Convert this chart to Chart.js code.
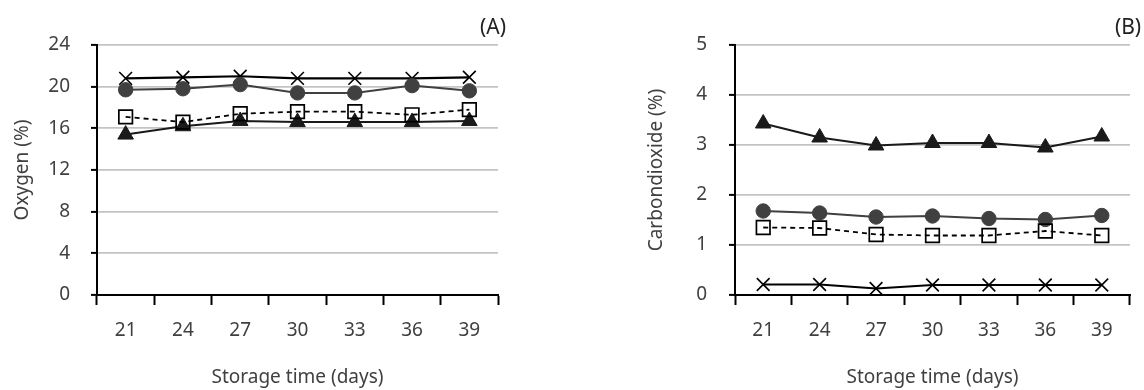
<!DOCTYPE html>
<html>
<head>
<meta charset="utf-8">
<script src="https://cdn.jsdelivr.net/npm/chart.js@4/dist/chart.umd.min.js"></script>
<style>
  html, body { margin: 0; padding: 0; background: #ffffff; }
  body { width: 1144px; height: 390px; position: relative; overflow: hidden; }
  .panel { position: absolute; top: 0; }
  #panelA { left: 0; }
  #panelB { left: 580px; }
</style>
</head>
<body>
<div class="panel" id="panelA"><canvas id="chartA" width="520" height="390"></canvas></div>
<div class="panel" id="panelB"><canvas id="chartB" width="564" height="390"></canvas></div>
<script>
// Storage days on the x axis
const days = ['21', '24', '27', '30', '33', '36', '39'];

// Oxygen (%) for the four packaging treatments
const o2Cross    = [20.8, 20.9, 21.0, 20.8, 20.8, 20.8, 20.9];
const o2Circle   = [19.7, 19.8, 20.2, 19.4, 19.4, 20.1, 19.6];
const o2Square   = [17.1, 16.6, 17.4, 17.6, 17.6, 17.3, 17.8];
const o2Triangle = [15.4, 16.2, 16.7, 16.6, 16.6, 16.6, 16.7];

// Carbon dioxide (%) for the same treatments
const co2Cross    = [0.21, 0.21, 0.13, 0.20, 0.20, 0.20, 0.20];
const co2Circle   = [1.68, 1.64, 1.56, 1.58, 1.53, 1.51, 1.59];
const co2Square   = [1.35, 1.34, 1.21, 1.19, 1.19, 1.28, 1.19];
const co2Triangle = [3.43, 3.15, 2.99, 3.04, 3.04, 2.95, 3.17];

// Axis ranges
const o2Axis  = { min: 0, max: 24, step: 4 };
const co2Axis = { min: 0, max: 5, step: 1 };

const FONT = '"Noto Sans", "DejaVu Sans", sans-serif';
const TEXT = '#404040';
const SIZE = 19;

function makeDatasets(cross, circle, square, triangle) {
  return [
    {
      label: 'cross', data: cross, order: 4,
      borderColor: '#000000', borderWidth: 2.2, tension: 0,
      pointStyle: 'crossRot', pointRadius: 9, pointBorderWidth: 1.6,
      pointBorderColor: '#000000', pointBackgroundColor: '#000000'
    },
    {
      label: 'circle', data: circle, order: 3,
      borderColor: '#404040', borderWidth: 2, tension: 0,
      pointStyle: 'circle', pointRadius: 7.2, pointBorderWidth: 1,
      pointBorderColor: '#404040', pointBackgroundColor: '#404040'
    },
    {
      label: 'triangle', data: triangle, order: 2,
      borderColor: '#1a1a1a', borderWidth: 2, tension: 0,
      pointStyle: 'triangle', pointRadius: 9, pointBorderWidth: 1,
      pointBorderColor: '#1a1a1a', pointBackgroundColor: '#1a1a1a'
    },
    {
      label: 'square', data: square, order: 1,
      borderColor: '#000000', borderWidth: 1.8, borderDash: [5, 4], tension: 0,
      pointStyle: 'rect', pointRadius: 9.6, pointBorderWidth: 1.7,
      pointBorderColor: '#000000', pointBackgroundColor: 'rgba(255,255,255,0)'
    }
  ];
}

// Panel letter in the upper right corner
const panelLetter = {
  id: 'panelLetter',
  afterDraw(chart, args, opts) {
    const ctx = chart.ctx;
    ctx.save();
    ctx.font = '21px ' + FONT;
    ctx.fillStyle = '#222222';
    ctx.textAlign = 'center';
    ctx.textBaseline = 'middle';
    ctx.fillText(opts.text, opts.x, opts.y);
    ctx.restore();
  }
};

function makeChart(id, sets, axis, yTitle, geo) {
  return new Chart(document.getElementById(id), {
    type: 'line',
    data: { labels: days, datasets: sets },
    options: {
      responsive: false,
      animation: false,
      layout: { padding: { top: 45, right: geo.right, bottom: 0, left: 0 } },
      plugins: {
        legend: { display: false },
        tooltip: { enabled: false },
        panelLetter: { text: geo.letter, x: geo.letterX, y: 28 }
      },
      scales: {
        x: {
          type: 'category',
          offset: true,
          afterFit(scale) { scale.height = 95; },
          grid: {
            offset: true, drawOnChartArea: false, drawTicks: true,
            tickLength: 10, tickColor: '#000000', tickWidth: 2
          },
          border: { display: true, color: '#000000', width: 2 },
          ticks: { color: TEXT, font: { family: FONT, size: SIZE }, padding: 14 },
          title: {
            display: true, text: 'Storage time (days)', color: TEXT,
            font: { family: FONT, size: SIZE }, padding: { top: 0, bottom: 1 }
          }
        },
        y: {
          min: axis.min, max: axis.max,
          afterFit(scale) { scale.width = geo.yWidth; },
          grid: {
            color: '#c4c4c4', lineWidth: 1.8, drawTicks: true,
            tickLength: 6, tickColor: '#000000', tickWidth: 2
          },
          border: { display: true, color: '#000000', width: 2 },
          ticks: {
            stepSize: axis.step, color: TEXT,
            font: { family: FONT, size: SIZE }, padding: geo.tickPad
          },
          title: {
            display: true, text: yTitle, color: TEXT,
            font: { family: FONT, size: SIZE }, padding: { top: geo.titlePad, bottom: 0 }
          }
        }
      }
    },
    plugins: [panelLetter]
  });
}

makeChart('chartA', makeDatasets(o2Cross, o2Circle, o2Square, o2Triangle), o2Axis, 'Oxygen (%)',
  { right: 22, yWidth: 97, tickPad: 21, titlePad: 11, letter: '(A)', letterX: 493 });

makeChart('chartB', makeDatasets(co2Cross, co2Circle, co2Square, co2Triangle), co2Axis, 'Carbondioxide (%)',
  { right: 14, yWidth: 155, tickPad: 22, titlePad: 65, letter: '(B)', letterX: 548 });
</script>
</body>
</html>
